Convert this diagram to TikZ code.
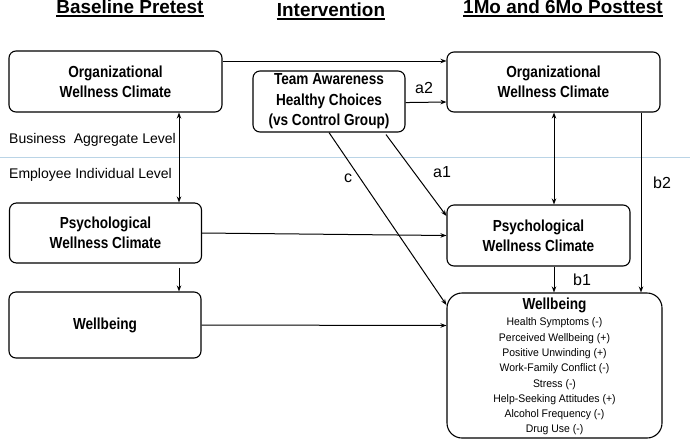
\documentclass[tikz,border=0pt]{standalone}
\usepackage{fontspec}
\setmainfont{Liberation Sans}
\newfontfamily\narrowsans[FakeStretch=0.85]{Liberation Sans}
\newfontfamily\listsans[FakeStretch=0.95]{Liberation Sans}
\usetikzlibrary{arrows.meta}
\definecolor{sepblue}{RGB}{186,212,230}
\begin{document}
\begin{tikzpicture}[x=1pt,y=-1pt,
  box/.style={draw, line width=1.1pt, rounded corners=7pt, align=center, inner sep=0pt,
    font=\narrowsans\bfseries\fontsize{16}{20}\selectfont},
  arr/.style={line width=1pt, -{Stealth[length=6pt,width=4.5pt]}},
  darr/.style={line width=1pt, {Stealth[length=6pt,width=4.5pt]}-{Stealth[length=6pt,width=4.5pt]}},
  lab/.style={font=\fontsize{16}{18}\selectfont, inner sep=0pt},
  ttl/.style={font=\bfseries\fontsize{18.9}{20}\selectfont, inner sep=0pt, anchor=base},
  lvl/.style={font=\fontsize{14}{16}\selectfont, anchor=west, inner sep=0pt},
  uline/.style={line width=1.5pt}]
\useasboundingbox (0,0) rectangle (690,440);
\fill[white] (0,0) rectangle (690,440);
% separator
\draw[sepblue, line width=0.8pt] (0,157) -- (690,157);
% titles
\node[ttl] (t1) at (130,13.6) {Baseline Pretest};
\node[ttl] (t2) at (331,16.2) {Intervention};
\node[ttl] (t3) at (563,13.6) {1Mo and 6Mo Posttest};
\draw[uline] ([yshift=-2.6pt]t1.base west) -- ([yshift=-2.6pt]t1.base east);
\draw[uline] ([yshift=-2.6pt]t2.base west) -- ([yshift=-2.6pt]t2.base east);
\draw[uline] ([yshift=-2.6pt]t3.base west) -- ([yshift=-2.6pt]t3.base east);
% level labels
\node[lvl] (bal) at (9,140) {Business\ \ Aggregate Level};
\node[lvl] (eil) at (9,175) {Employee Individual Level};
% boxes
\node[box, minimum width=213pt, minimum height=61pt] (orgL) at (115.5,81.5) {Organizational\\Wellness Climate};
\node[box, minimum width=192pt, minimum height=60pt] (psyL) at (105.5,233) {Psychological\\Wellness Climate};
\node[box, minimum width=192pt, minimum height=66pt] (wellL) at (105,325) {Wellbeing};
\node[box, minimum width=152pt, minimum height=61pt, font=\narrowsans\bfseries\fontsize{16}{20.5}\selectfont] (interv) at (329,101.5) {Team Awareness\\Healthy Choices\\(vs Control Group)};
\node[box, minimum width=213pt, minimum height=60pt] (orgR) at (553.5,82) {Organizational\\Wellness Climate};
\node[box, minimum width=183pt, minimum height=61pt] (psyR) at (538.5,235.5) {Psychological\\Wellness Climate};
\node[box, rounded corners=15pt, minimum width=215pt, minimum height=145pt] (wellR) at (554.5,365.5) {};
\node[font=\narrowsans\bfseries\fontsize{16}{20}\selectfont, inner sep=0pt] (wellRt) at (554.5,305) {Wellbeing};
\node[font=\listsans\fontsize{11}{15.3}\selectfont, align=center, inner sep=0pt] (wellRl) at (554.5,376.5)
  {Health Symptoms (-)\\Perceived Wellbeing (+)\\Positive Unwinding (+)\\Work-Family Conflict (-)\\Stress (-)\\Help-Seeking Attitudes (+)\\Alcohol Frequency (-)\\Drug Use (-)};
% connectors
\draw[arr] ([yshift=20.5pt]orgL.east) -- ([yshift=21pt]orgR.west);
\draw[arr] (interv.east |- orgR.south) ++(0,-10) -- ([yshift=-20pt]orgR.west);
\draw[darr] ([xshift=63.5pt]orgL.south) -- ([xshift=73.5pt]psyL.north);
\draw[arr] ([xshift=73.5pt,yshift=-4pt]psyL.south) -- ([xshift=74pt]wellL.north);
\draw[arr] (psyL.east) -- (psyR.west);
\draw[arr] (wellL.east) -- ([yshift=40pt]wellR.west);
\draw[arr] (interv.south) -- ([yshift=60.5pt]wellR.west);
\draw[arr] ([xshift=57pt,yshift=-2pt]interv.south) -- ([yshift=19.5pt]psyR.west);
\draw[darr] ([xshift=0.5pt]orgR.south) -- ([xshift=15.5pt]psyR.north);
\draw[arr] ([xshift=15.5pt]psyR.south) -- ([xshift=-0.5pt]wellR.north);
\draw[arr] ([xshift=87.5pt]orgR.south) -- ([xshift=86.5pt]wellR.north);
% labels
\node[lab] (la2) at (424,88) {a2};
\node[lab] (la1) at (442,172) {a1};
\node[lab] (lc) at (348,178) {c};
\node[lab] (lb1) at (582,280) {b1};
\node[lab] (lb2) at (662,183) {b2};
\end{tikzpicture}
\end{document}
